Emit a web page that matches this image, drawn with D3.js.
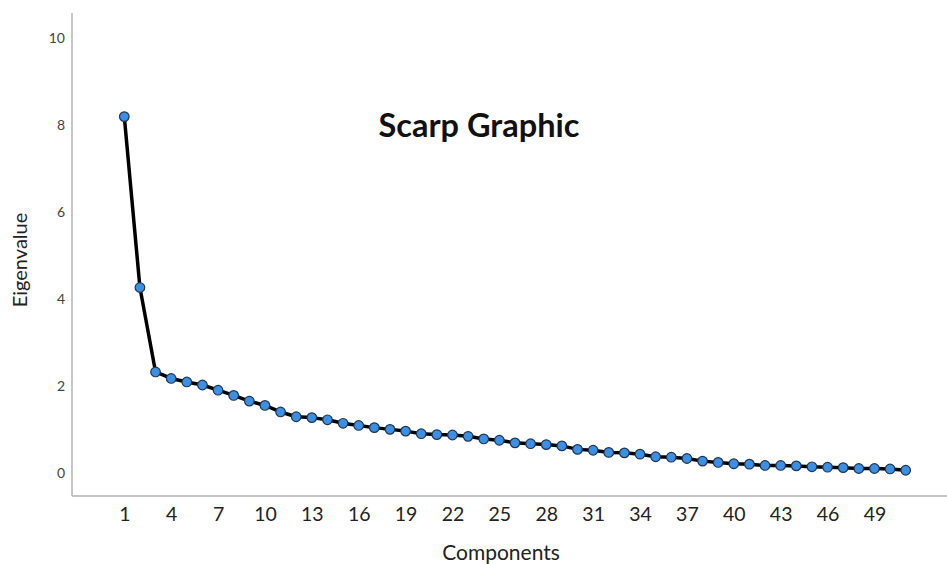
<!DOCTYPE html>
<html>
<head>
<meta charset="utf-8">
<script src="https://cdn.jsdelivr.net/npm/d3@7"></script>
<style>
  body { margin: 0; background: #fff; }
  svg { display: block; font-family: Lato, "Open Sans", sans-serif; }
</style>
</head>
<body>
<div id="graph"></div>
<script>
// scree plot data
var components = d3.range(1, 52);
var eigenvalues = [8.20, 4.27, 2.33, 2.18, 2.10, 2.03, 1.91, 1.79, 1.66, 1.56,
  1.41, 1.30, 1.28, 1.23, 1.15, 1.10, 1.05, 1.01, 0.97, 0.91,
  0.89, 0.88, 0.85, 0.79, 0.76, 0.70, 0.68, 0.66, 0.63, 0.55,
  0.53, 0.48, 0.47, 0.44, 0.38, 0.37, 0.34, 0.28, 0.25, 0.22,
  0.21, 0.18, 0.18, 0.17, 0.15, 0.14, 0.13, 0.11, 0.11, 0.10, 0.07];
var xTicks = [1, 4, 7, 10, 13, 16, 19, 22, 25, 28, 31, 34, 37, 40, 43, 46, 49];
var yTicks = [0, 2, 4, 6, 8, 10];

var data = components.map(function(c, i) { return {comp: c, value: eigenvalues[i]}; });

var svgWidth = 947, svgHeight = 564;
var frame = {left: 72, top: 13, right: 947, bottom: 496};

var xScale = d3.scaleLinear().domain([1, 51]).range([124.3, 905.7]);
var yScale = d3.scaleLinear().domain([0, 10]).range([473.3, 38.3]);

var svg = d3.select("#graph").append("svg")
  .attr("width", svgWidth)
  .attr("height", svgHeight);

// axis frame lines
svg.append("line")
  .attr("x1", frame.left).attr("x2", frame.left)
  .attr("y1", frame.top).attr("y2", frame.bottom)
  .style("stroke", "#b3b3b3").style("stroke-width", 1.5);
svg.append("line")
  .attr("x1", frame.left).attr("x2", frame.right)
  .attr("y1", frame.bottom).attr("y2", frame.bottom)
  .style("stroke", "#b3b3b3").style("stroke-width", 1.5);

// y axis
var yAxis = svg.append("g")
  .attr("transform", "translate(" + frame.left + ",0)")
  .call(d3.axisLeft(yScale).tickValues(yTicks).tickSize(0).tickPadding(7));
yAxis.select(".domain").remove();
yAxis.selectAll("text")
  .style("font-family", "Lato, sans-serif")
  .style("font-size", "14px")
  .style("fill", "#444");

// x axis
var xAxis = svg.append("g")
  .attr("transform", "translate(0," + frame.bottom + ")")
  .call(d3.axisBottom(xScale).tickValues(xTicks).tickSize(0).tickPadding(11));
xAxis.select(".domain").remove();
xAxis.selectAll("text")
  .style("font-family", "Lato, sans-serif")
  .style("font-size", "19.5px")
  .style("fill", "#222");

// axis labels
svg.append("text")
  .attr("x", 501).attr("y", 560)
  .attr("text-anchor", "middle")
  .style("font-size", "21px").style("fill", "#222")
  .text("Components");

svg.append("text")
  .attr("transform", "translate(27,260) rotate(-90)")
  .attr("text-anchor", "middle")
  .style("font-size", "20px").style("fill", "#222")
  .text("Eigenvalue");

// title
svg.append("text")
  .attr("x", 479).attr("y", 137)
  .attr("text-anchor", "middle")
  .style("font-size", "32.5px").style("font-weight", "bold").style("fill", "#111")
  .text("Scarp Graphic");

// line
var lineGenerator = d3.line()
  .x(function(d) { return xScale(d.comp); })
  .y(function(d) { return yScale(d.value); });

svg.append("path")
  .attr("d", lineGenerator(data))
  .style("fill", "none")
  .style("stroke", "#000")
  .style("stroke-width", 3.5)
  .style("stroke-linejoin", "round");

// markers
svg.selectAll(".dot")
  .data(data)
  .enter().append("circle")
  .attr("class", "dot")
  .attr("cx", function(d) { return xScale(d.comp); })
  .attr("cy", function(d) { return yScale(d.value); })
  .attr("r", 4.8)
  .style("fill", "#3d8fe3")
  .style("stroke", "#1d3550")
  .style("stroke-width", 1.2);
</script>
</body>
</html>
